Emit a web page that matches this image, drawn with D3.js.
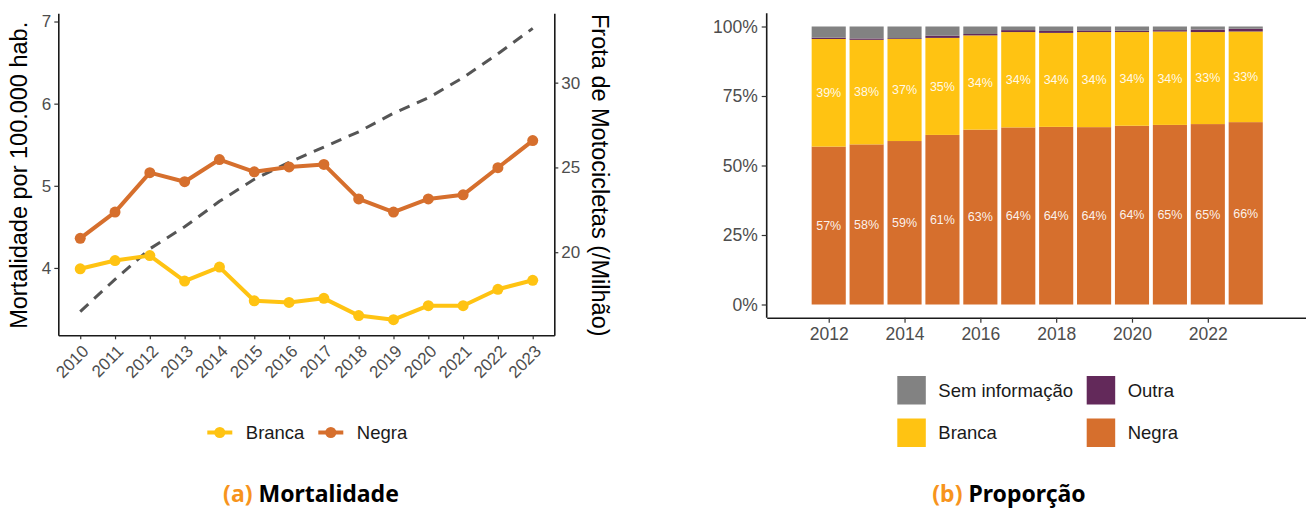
<!DOCTYPE html>
<html>
<head>
<meta charset="utf-8">
<script src="https://cdn.jsdelivr.net/npm/d3@7/dist/d3.min.js"></script>
<style>
  html, body { margin: 0; padding: 0; background: #fff; }
  svg { display: block; }
  text { font-family: "Liberation Sans", Arial, sans-serif; }
</style>
</head>
<body>
<svg id="chart" width="1306" height="508"></svg>
<script>
// ---------- Data: panel (a) Mortalidade ----------
const years = [2010, 2011, 2012, 2013, 2014, 2015, 2016, 2017, 2018, 2019, 2020, 2021, 2022, 2023];
const mortBranca = [3.99, 4.09, 4.15, 3.84, 4.01, 3.60, 3.58, 3.63, 3.42, 3.37, 3.54, 3.54, 3.74, 3.85];
const mortNegra  = [4.36, 4.68, 5.16, 5.05, 5.32, 5.17, 5.23, 5.26, 4.84, 4.68, 4.84, 4.89, 5.22, 5.55];
const frota      = [16.5, 18.4, 20.2, 21.5, 23.0, 24.3, 25.3, 26.2, 27.1, 28.2, 29.1, 30.3, 31.7, 33.2];
const leftTicks  = [4, 5, 6, 7];
const rightTicks = [20, 25, 30];

// ---------- Data: panel (b) Proporção (percent) ----------
const propYears  = [2012, 2013, 2014, 2015, 2016, 2017, 2018, 2019, 2020, 2021, 2022, 2023];
const propNegra  = [56.8, 57.6, 58.8, 61.0, 62.9, 63.7, 63.9, 63.8, 64.3, 64.6, 64.9, 65.6];
const propBranca = [38.7, 37.6, 36.7, 34.9, 33.9, 34.3, 33.8, 34.2, 33.7, 33.6, 33.1, 32.6];
const propOutra  = [0.5, 0.5, 0.3, 0.8, 0.5, 0.7, 0.7, 0.6, 0.5, 0.5, 0.9, 1.0];
const propSemInf = [4.0, 4.3, 4.2, 3.3, 2.7, 1.3, 1.6, 1.4, 1.5, 1.3, 1.1, 0.8];
const propYTicks = [0, 25, 50, 75, 100];
const propXTicks = [2012, 2014, 2016, 2018, 2020, 2022];
const stackKeys  = ["Negra", "Branca", "Outra", "Sem informação"];

const colors = {
  "Branca": "#FFC312",
  "Negra": "#D66F2D",
  "Outra": "#63295A",
  "Sem informação": "#828282"
};

const svg = d3.select("#chart");
const axisColor = "#1a1a1a";
const tickLabelColor = "#4d4d4d";

// =================== Panel (a) ===================
const A = { left: 58.3, right: 554.3, top: 13.3, bottom: 335.3 };
const xA = d3.scaleLinear().domain([2009.37, 2023.62]).range([A.left, A.right]);
const yA = d3.scaleLinear().domain([3.18, 7.1]).range([A.bottom, A.top]);
const yA2 = d3.scaleLinear().domain([15.1, 34.09]).range([A.bottom, A.top]);

const gA = svg.append("g");

// dashed frota line
const lineFrota = d3.line().x((d, i) => xA(years[i])).y(d => yA2(d));
gA.append("path").datum(frota)
  .attr("d", lineFrota)
  .attr("fill", "none")
  .attr("stroke", "#555555")
  .attr("stroke-width", 3)
  .attr("stroke-dasharray", "11,8");

function drawSeries(vals, color) {
  const ln = d3.line().x((d, i) => xA(years[i])).y(d => yA(d));
  gA.append("path").datum(vals)
    .attr("d", ln).attr("fill", "none")
    .attr("stroke", color).attr("stroke-width", 4)
    .attr("stroke-linejoin", "round");
  gA.selectAll(null).data(vals).enter().append("circle")
    .attr("cx", (d, i) => xA(years[i])).attr("cy", d => yA(d))
    .attr("r", 5.5).attr("fill", color);
}
drawSeries(mortBranca, colors["Branca"]);
drawSeries(mortNegra, colors["Negra"]);

// axes
function styleAxis(g) {
  g.selectAll(".domain").attr("stroke", axisColor).attr("stroke-width", 1.6);
  g.selectAll(".tick line").attr("stroke", "#333").attr("stroke-width", 1.2);
  g.selectAll(".tick text").attr("fill", tickLabelColor)
    .style("font-family", "'Liberation Sans', Arial, sans-serif");
}

const axLeft = gA.append("g").attr("transform", `translate(${A.left},0)`)
  .call(d3.axisLeft(yA).tickValues(leftTicks).tickFormat(d3.format("d")).tickSize(4).tickPadding(3).tickSizeOuter(0));
styleAxis(axLeft);
axLeft.selectAll(".tick text").style("font-size", "17px");

const axRight = gA.append("g").attr("transform", `translate(${A.right},0)`)
  .call(d3.axisRight(yA2).tickValues(rightTicks).tickFormat(d3.format("d")).tickSize(4).tickPadding(3).tickSizeOuter(0));
styleAxis(axRight);
axRight.selectAll(".tick text").style("font-size", "17px");

const axBottom = gA.append("g").attr("transform", `translate(0,${A.bottom})`)
  .call(d3.axisBottom(xA).tickValues(years).tickFormat(d3.format("d")).tickSize(4).tickSizeOuter(0));
styleAxis(axBottom);
axBottom.selectAll(".tick text")
  .style("font-size", "17px")
  .attr("text-anchor", "end")
  .attr("x", 0).attr("y", 0).attr("dy", "0")
  .attr("transform", "translate(9,17) rotate(-45)");

// axis titles
gA.append("text")
  .attr("transform", `translate(27,${(A.top + A.bottom) / 2 + 1}) rotate(-90)`)
  .attr("text-anchor", "middle")
  .attr("fill", "#000")
  .style("font-size", "23.5px")
  .text("Mortalidade por 100.000 hab.");
gA.append("text")
  .attr("transform", `translate(592,${(A.top + A.bottom) / 2 + 1}) rotate(90)`)
  .attr("text-anchor", "middle")
  .attr("fill", "#000")
  .style("font-size", "23.5px")
  .text("Frota de Motocicletas (/Milhão)");

// legend (a)
const legA = [
  { key: "Branca", x: 207.3 },
  { key: "Negra", x: 318.3 }
];
legA.forEach(l => {
  const ly = 432.5;
  gA.append("line").attr("x1", l.x).attr("x2", l.x + 25).attr("y1", ly).attr("y2", ly)
    .attr("stroke", colors[l.key]).attr("stroke-width", 4);
  gA.append("circle").attr("cx", l.x + 12.5).attr("cy", ly).attr("r", 5.5).attr("fill", colors[l.key]);
  gA.append("text").attr("x", l.x + 38.5).attr("y", ly).attr("dy", "0.35em")
    .attr("fill", "#1a1a1a").style("font-size", "18.5px").text(l.key);
});

// caption (a)
const capA = gA.append("text").attr("x", 311).attr("y", 502).attr("text-anchor", "middle")
  .style("font-family", "'Noto Sans', sans-serif").style("font-weight", "700").style("font-size", "23px");
capA.append("tspan").attr("fill", "#F7941D").text("(a)");
capA.append("tspan").attr("fill", "#000").text(" Mortalidade");

// =================== Panel (b) ===================
const B = { left: 766.7, right: 1306, top: 13.3, bottom: 317.7 };
const xB = d3.scaleLinear().domain([2010.364, 2024.59]).range([B.left, B.right]);
const yB = d3.scaleLinear().domain([0, 100]).range([304.5, 26.5]);
const gB = svg.append("g");

const rows = propYears.map((yr, i) => ({
  year: yr,
  "Negra": propNegra[i],
  "Branca": propBranca[i],
  "Outra": propOutra[i],
  "Sem informação": propSemInf[i]
}));
const stacked = d3.stack().keys(stackKeys)(rows);
const barW = (xB(2013) - xB(2012)) * 0.9;

stacked.forEach(layer => {
  gB.selectAll(null).data(layer).enter().append("rect")
    .attr("x", d => xB(d.data.year) - barW / 2)
    .attr("width", barW)
    .attr("y", d => yB(d[1]))
    .attr("height", d => yB(d[0]) - yB(d[1]))
    .attr("fill", colors[layer.key]);
});

// labels for Negra and Branca
stacked.filter(l => l.key === "Negra" || l.key === "Branca").forEach(layer => {
  gB.selectAll(null).data(layer).enter().append("text")
    .attr("x", d => xB(d.data.year))
    .attr("y", d => yB((d[0] + d[1]) / 2))
    .attr("dy", "0.35em")
    .attr("text-anchor", "middle")
    .attr("fill", "#ffffff")
    .attr("fill-opacity", 0.92)
    .style("font-size", "12.5px")
    .text(d => Math.round(d.data[layer.key]) + "%");
});

const axLB = gB.append("g").attr("transform", `translate(${B.left},0)`)
  .call(d3.axisLeft(yB).tickValues(propYTicks).tickFormat(d => d + "%").tickSize(5).tickPadding(4).tickSizeOuter(0));
styleAxis(axLB);
axLB.select(".domain").attr("d", `M0,${B.top}V${B.bottom}`);
axLB.selectAll(".tick text").style("font-size", "17.5px");

const axBB = gB.append("g").attr("transform", `translate(0,${B.bottom})`)
  .call(d3.axisBottom(xB).tickValues(propXTicks).tickFormat(d3.format("d")).tickSize(5).tickPadding(5).tickSizeOuter(0));
styleAxis(axBB);
axBB.selectAll(".tick text").style("font-size", "17.5px");

// legend (b)
const legB = [
  { key: "Sem informação", x: 897.3, y: 376 },
  { key: "Outra", x: 1086.7, y: 376 },
  { key: "Branca", x: 897.3, y: 418.5 },
  { key: "Negra", x: 1086.7, y: 418.5 }
];
legB.forEach(l => {
  gB.append("rect").attr("x", l.x).attr("y", l.y).attr("width", 28.5).attr("height", 28.5)
    .attr("fill", colors[l.key]);
  gB.append("text").attr("x", l.x + 41).attr("y", l.y + 14.3).attr("dy", "0.35em")
    .attr("fill", "#1a1a1a").style("font-size", "18.5px").text(l.key);
});

// caption (b)
const capB = gB.append("text").attr("x", 1009).attr("y", 502).attr("text-anchor", "middle")
  .style("font-family", "'Noto Sans', sans-serif").style("font-weight", "700").style("font-size", "23px");
capB.append("tspan").attr("fill", "#F7941D").text("(b)");
capB.append("tspan").attr("fill", "#000").text(" Proporção");
</script>
</body>
</html>
